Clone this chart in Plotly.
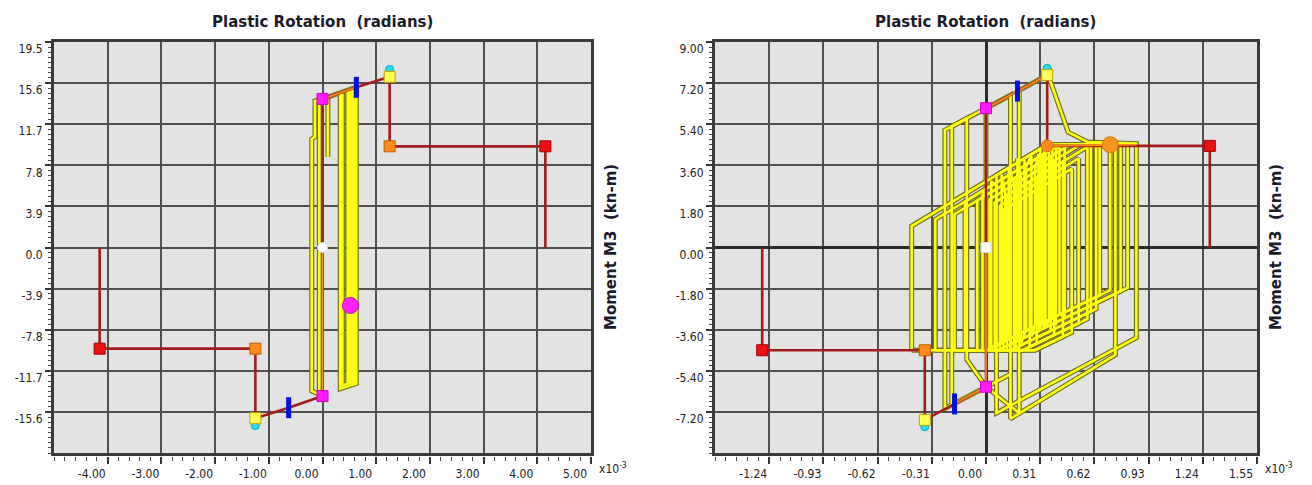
import plotly.graph_objects as go

W, H = 1312, 485

# ---------------- data (x in 1e-3 rad, moment in kN-m) ----------------
# Left hinge
left_backbone_x = [-4.15, -4.15, -1.25, -1.25, -0.63, 0.00, 0.00, 0.00, 0.63, 1.25, 1.25, 4.15, 4.15]
left_backbone_y = [0.0, -9.6, -9.6, -16.2, -15.2, -14.1, 0.0, 14.1, 15.2, 16.2, 9.6, 9.6, 0.0]
left_orange_x = [0.00, 0.63, None, 0.00, 0.00]
left_orange_y = [14.1, 15.2, None, 0.0, -14.1]
left_hyst_x = [0.00, -0.14, -0.14, -0.20, -0.20, 0.00, None,
               -0.06, -0.06, None,
               0.10, 0.10, None,
               0.33, 0.33, 0.63, 0.63, None,
               0.37, 0.37, 0.60, 0.60, None,
               0.47, 0.47, 0.50, 0.50, 0.53, 0.53, 0.56, 0.56, 0.59, 0.59, None,
               0.00, 0.63]
left_hyst_y = [14.10, 13.90, 10.50, 10.30, -13.60, -14.10, None,
               14.00, -13.90, None,
               14.30, 8.60, None,
               14.55, -13.40, -12.90, 15.20, None,
               14.60, -13.10, -12.70, 15.10, None,
               14.85, -12.90, -12.85, 14.95, 15.00, -12.80, -12.75, 15.05, 15.10, -12.70, None,
               14.10, 15.20]
left_pts = {
    "B": ([0.00, 0.00], [14.1, -14.1]),
    "IO": ([0.63, -0.63], [15.2, -15.2]),
    "LS": ([1.25, -1.25], [16.9, -16.9]),
    "CP": ([1.25, -1.25], [16.2, -16.2]),
    "C": ([1.25, -1.25], [9.6, -9.6]),
    "D": ([4.15, -4.15], [9.6, -9.6]),
}
left_origin = ([0.0], [0.0])
left_state = ([0.52], [-5.5])

# Right hinge
right_backbone_x = [-1.28, -1.28, -0.35, -0.35, -0.18, 0.00, 0.00, 0.00, 0.18, 0.35, 0.35, 1.28, 1.28]
right_backbone_y = [0.0, -4.5, -4.5, -7.55, -6.85, -6.1, 0.0, 6.1, 6.85, 7.55, 4.45, 4.45, 0.0]
right_orange_x = [0.00, 0.18, 0.35, None, 0.00, 0.00, -0.18, None, 0.35, 0.86]
right_orange_y = [6.1, 6.85, 7.55, None, 0.0, -6.1, -6.85, None, 4.45, 4.50]
right_hyst_x = [
    0.00, 0.00, 0.14, 0.14, -0.235, -0.235, -0.11, -0.11, 0.00, 0.19, 0.19, 0.35, 0.37, 0.47, 0.58, 0.86,
    0.86, 0.06, 0.06, 0.35, 0.74, 0.74, 0.14, 0.14, None,
    -0.196, -0.196, 0.00, None,
    -0.425, -0.425, 0.35, 0.65, 0.65, 0.00, -0.425, None,
    -0.29, -0.29, 0.42, 0.71, 0.71, 0.00, -0.29, None,
    -0.18, -0.18, 0.48, 0.77, 0.77, 0.07, -0.18, None,
    -0.12, -0.12, 0.42, 0.81, 0.81, 0.07, -0.12, None,
    -0.05, -0.05, 0.48, 0.63, 0.63, 0.14, -0.05, None,
    0.02, 0.02, 0.54, 0.60, 0.60, 0.14, 0.02, None,
    0.05, 0.05, 0.58, 0.58, 0.21, 0.05, None,
    0.08, 0.08, 0.53, 0.53, 0.21, 0.08, None,
    0.10, 0.10, 0.49, 0.49, 0.28, 0.10, None,
    0.12, 0.12, 0.44, 0.44, 0.28, 0.12, None,
    0.14, 0.14, 0.39, 0.39, 0.21, 0.14, None,
    0.17, 0.17, 0.37, 0.37, 0.17, None,
    0.19, 0.19, 0.33, 0.33, 0.19, None,
    0.22, 0.22, 0.31, 0.31, 0.22, None,
    0.25, 0.25, 0.29, 0.29, 0.25, None,
    # dense inner cycles
    -0.02, -0.02, 0.00, 0.00, 0.03, 0.03, 0.06, 0.06, 0.09, 0.09, 0.11, 0.11, 0.13, 0.13,
    0.16, 0.16, 0.18, 0.18, 0.20, 0.20, 0.23, 0.23, 0.26, 0.26, 0.28, 0.28, 0.30, 0.30,
    0.32, 0.32, 0.34, 0.34, 0.36, 0.36, 0.38, 0.38, 0.40, 0.40, 0.42, 0.42, 0.45, 0.45,
]
right_hyst_y = [
    0.00, 6.10, 6.67, -5.55, -7.05, 5.14, 5.65, -4.90, -6.10, -7.25, 6.88, 7.55, 7.25, 5.05, 4.62, 4.55,
    -3.95, -7.25, 3.17, 4.50, 4.52, -4.70, -7.50, 2.66, None,
    -6.90, 5.30, 6.10, None,
    -4.50, 0.94, 4.50, 4.50, -2.10, -4.50, -4.50, None,
    -4.50, 1.23, 4.50, 4.50, -1.87, -4.50, -4.50, None,
    -4.50, 1.46, 4.50, 4.50, -1.91, -4.50, -4.50, None,
    -4.50, 2.02, 4.50, 4.50, -1.76, -4.50, -4.50, None,
    -4.50, 2.06, 4.50, 4.50, -2.69, -4.50, -4.50, None,
    -4.50, 2.11, 4.50, 4.50, -2.80, -4.50, -4.50, None,
    -4.50, 1.97, 4.41, -3.13, -4.50, -4.50, None,
    -4.50, 1.83, 3.90, -3.32, -4.50, -4.50, None,
    -4.50, 1.65, 3.44, -3.72, -4.50, -4.50, None,
    -4.50, 2.29, 3.76, -3.91, -4.50, -4.50, None,
    -4.50, 2.66, 3.81, -3.83, -4.50, -4.50, None,
    -4.39, 3.07, 3.99, -3.65, -4.39, None,
    -4.06, 3.44, 4.09, -3.54, -4.06, None,
    -3.69, 3.90, 4.32, -3.35, -3.69, None,
    -4.35, 2.89, 3.07, -4.20, -4.35, None,
    -4.50, 2.30, 2.50, -4.50, -4.40, 2.90, 2.70, -4.30, -4.20, 3.20, 2.40, -4.10, -4.00, 3.50,
    2.80, -4.50, -3.80, 3.90, 3.10, -4.20, -3.60, 3.60, 4.00, -3.90, -3.40, 3.40, 4.10, -3.70,
    -3.30, 3.80, 4.40, -3.50, -3.20, 4.20, 4.50, -3.00, -3.40, 4.30, 4.50, -2.90, -3.10, 4.50,
]
right_pts = {
    "B": ([0.00, 0.00], [6.1, -6.1]),
    "IO": ([0.18, -0.18], [6.85, -6.85]),
    "LS": ([0.35, -0.35], [7.85, -7.85]),
    "CP": ([0.35, -0.35], [7.55, -7.55]),
    "C": ([0.35, -0.35], [4.45, -4.5]),
    "D": ([1.28, -1.28], [4.45, -4.5]),
}
right_origin = ([0.0], [0.0])
right_state = ([0.71], [4.5])

left_xticks = [-4.0, -3.0, -2.0, -1.0, 0.0, 1.0, 2.0, 3.0, 4.0, 5.0]
left_xtext = ["-4.00", "-3.00", "-2.00", "-1.00", "0.00", "1.00", "2.00", "3.00", "4.00", "5.00"]
left_yticks = [19.5, 15.6, 11.7, 7.8, 3.9, 0.0, -3.9, -7.8, -11.7, -15.6]
left_ytext = ["19.5", "15.6", "11.7", "7.8", "3.9", "0.0", "-3.9", "-7.8", "-11.7", "-15.6"]
right_xticks = [-1.24, -0.93, -0.62, -0.31, 0.0, 0.31, 0.62, 0.93, 1.24, 1.55]
right_xtext = ["-1.24", "-0.93", "-0.62", "-0.31", "0.00", "0.31", "0.62", "0.93", "1.24", "1.55"]
right_yticks = [9.0, 7.2, 5.4, 3.6, 1.8, 0.0, -1.8, -3.6, -5.4, -7.2]
right_ytext = ["9.00", "7.20", "5.40", "3.60", "1.80", "0.00", "-1.80", "-3.60", "-5.40", "-7.20"]

TITLE = "Plastic Rotation\u00a0 (radians)"
YTITLE = "Moment M3\u00a0 (kn-m)"

# ---------------- styling ----------------
BG = "#e3e3e3"
GRID = "#505050"
BORDER = "#3a3a3a"
DARKRED = "#a31c1c"
ORANGE = "#ff8c1a"
YEL = "#ffff14"
YEL_EDGE = "#74741e"
TICKFONT = dict(family="Liberation Sans Narrow, Arial Narrow, DejaVu Sans Condensed, Liberation Sans, sans-serif",
                size=12, color="#222222")
HEADFONT = dict(family="DejaVu Sans, Verdana, sans-serif", size=15, color="#1b1b2b")


def px2fx(p):
    return p / W


def px2fy(p):
    return 1 - p / H


LDOM = [px2fx(54), px2fx(591)]
RDOM = [px2fx(715), px2fx(1257)]
YDOM = [px2fy(453), px2fy(42)]
TICKROW = px2fy(456)

fig = go.Figure()


def line(xs, ys, xa, ya, color, width):
    fig.add_trace(go.Scatter(x=xs, y=ys, xaxis=xa, yaxis=ya, mode="lines",
                             line=dict(color=color, width=width), connectgaps=False,
                             hoverinfo="skip", showlegend=False))


def mk(xs, ys, xa, ya, symbol, size, color, lcolor, lw=1):
    fig.add_trace(go.Scatter(x=xs, y=ys, xaxis=xa, yaxis=ya, mode="markers",
                             marker=dict(symbol=symbol, size=size, color=color,
                                         line=dict(color=lcolor, width=lw)),
                             hoverinfo="skip", showlegend=False))


panels = [
    ("x", "y", left_hyst_x, left_hyst_y, left_backbone_x, left_backbone_y, left_orange_x, left_orange_y,
     left_pts, left_origin, left_state, "circle", ("circle", "#ff22ff", "#cc00cc")),
    ("x2", "y2", right_hyst_x, right_hyst_y, right_backbone_x, right_backbone_y, right_orange_x, right_orange_y,
     right_pts, right_origin, right_state, "square", ("circle", "#f7941d", "#e07800")),
]
for (xa, ya, hx, hy, bx, by, ox, oy, pts, org, st, orgsym, ststy) in panels:
    line(hx, hy, xa, ya, YEL_EDGE, 5)
    line(hx, hy, xa, ya, YEL, 2.6)
    line(bx, by, xa, ya, DARKRED, 2.6)
    line(ox, oy, xa, ya, ORANGE, 1.6)
    mk(pts["LS"][0], pts["LS"][1], xa, ya, "circle", 8, "#22e0f0", "#10a0c0")
    mk(pts["CP"][0], pts["CP"][1], xa, ya, "square", 11, "#ffff55", "#c8a000")
    mk(pts["IO"][0], pts["IO"][1], xa, ya, "line-ns", 15, "#0010e0", "#0010e0", 5)
    mk(pts["B"][0], pts["B"][1], xa, ya, "square", 11, "#ff1aff", "#d000d0")
    if xa == "x":
        mk(pts["C"][0], pts["C"][1], xa, ya, "square", 11, "#ff8c1a", "#c05a00")
    else:
        mk(pts["C"][0][:1], pts["C"][1][:1], xa, ya, "circle", 12, "#ff8c1a", "#e07000")
        mk(pts["C"][0][1:], pts["C"][1][1:], xa, ya, "square", 11, "#ff8c1a", "#c05a00")
    mk(pts["D"][0], pts["D"][1], xa, ya, "square", 11, "#ee1010", "#a00000")
    mk(org[0], org[1], xa, ya, orgsym, 10, "#ffffff", "#dddddd")
    mk(st[0], st[1], xa, ya, ststy[0], 16, ststy[1], ststy[2])

# dummy traces for the tick-label axes
fig.add_trace(go.Scatter(x=[None], y=[None], xaxis="x3", yaxis="y", showlegend=False, hoverinfo="skip"))
fig.add_trace(go.Scatter(x=[None], y=[None], xaxis="x4", yaxis="y2", showlegend=False, hoverinfo="skip"))


def main_x(dom, rng, grid, anchor, zl):
    return dict(domain=dom, range=rng, anchor=anchor, tickmode="array", tickvals=grid,
                showticklabels=False, ticks="", showgrid=True, gridcolor=GRID, gridwidth=2,
                zeroline=zl, zerolinecolor="#2a2a2a", zerolinewidth=2.5,
                showline=True, mirror=True, linecolor=BORDER, linewidth=3,
                fixedrange=True)


def lab_x(dom, rng, vals, text, minor_vals, over):
    return dict(domain=dom, range=rng, overlaying=over, anchor="free", position=TICKROW,
                tickmode="array", tickvals=vals, ticktext=text, ticks="outside", ticklen=7,
                tickwidth=1.5, tickcolor="#333333", showgrid=False, zeroline=False, showline=False,
                tickfont=TICKFONT, ticklabelshift=-16, ticklabelstandoff=0,
                minor=dict(tickmode="array", tickvals=minor_vals, ticks="outside", ticklen=4,
                           tickwidth=1.2, tickcolor="#444444", showgrid=False),
                fixedrange=True)


def main_y(rng, vals, text, minor_vals, anchor, zl):
    return dict(domain=YDOM, range=rng, anchor=anchor, tickmode="array", tickvals=vals, ticktext=text,
                ticks="outside", ticklen=6, tickwidth=1.5, tickcolor="#333333",
                showgrid=True, gridcolor=GRID, gridwidth=2,
                zeroline=zl, zerolinecolor="#2a2a2a", zerolinewidth=2.5,
                showline=True, mirror=True, linecolor=BORDER, linewidth=3,
                tickfont=TICKFONT, ticklabelshift=7,
                minor=dict(tickmode="array", tickvals=minor_vals, ticks="outside", ticklen=3,
                           tickwidth=1.2, tickcolor="#444444", showgrid=False),
                fixedrange=True)


l_minor_x = [round(-5 + 0.2 * i, 3) for i in range(51)]
r_minor_x = [round(-1.55 + 0.062 * i, 4) for i in range(51)]
l_minor_y = [round(-19.5 + 0.4875 * i, 4) for i in range(81)]
r_minor_y = [round(-9.0 + 0.225 * i, 4) for i in range(81)]

fig.update_layout(
    width=W, height=H, margin=dict(l=0, r=0, t=0, b=0),
    paper_bgcolor="#ffffff", plot_bgcolor=BG, showlegend=False,
    xaxis=main_x(LDOM, [-5, 5], left_xticks[:-1], "y", False),
    yaxis=main_y([-19.5, 19.5], left_yticks, left_ytext, l_minor_y, "x", False),
    xaxis2=main_x(RDOM, [-1.55, 1.55], right_xticks[:-1], "y2", True),
    yaxis2=main_y([-9, 9], right_yticks, right_ytext, r_minor_y, "x2", True),
    xaxis3=lab_x(LDOM, [-5, 5], left_xticks, left_xtext, l_minor_x, "x"),
    xaxis4=lab_x(RDOM, [-1.55, 1.55], right_xticks, right_xtext, r_minor_x, "x2"),
)

ann = []
for cx, tx, xlab in [((54 + 591) / 2, 611, 597), ((715 + 1257) / 2, 1276, 1263)]:
    ann.append(dict(x=px2fx(cx), y=px2fy(22), xref="paper", yref="paper", text="<b>" + TITLE + "</b>",
                    showarrow=False, xanchor="center", yanchor="middle", font=HEADFONT))
    ann.append(dict(x=px2fx(tx), y=px2fy(247), xref="paper", yref="paper", text="<b>" + YTITLE + "</b>",
                    showarrow=False, textangle=-90, xanchor="center", yanchor="middle", font=HEADFONT))
    ann.append(dict(x=px2fx(xlab), y=px2fy(468), xref="paper", yref="paper", text="x10<sup>-3</sup>",
                    showarrow=False, xanchor="left", yanchor="middle", font=TICKFONT))
fig.update_layout(annotations=ann)

fig.write_html(
    "out.html",
    config={"displayModeBar": False},
    post_script=("document.body.style.margin='0px';"
                 "var g=document.getElementById('{plot_id}');"
                 "g.style.position='absolute';g.style.left='0px';g.style.top='0px';"),
)
